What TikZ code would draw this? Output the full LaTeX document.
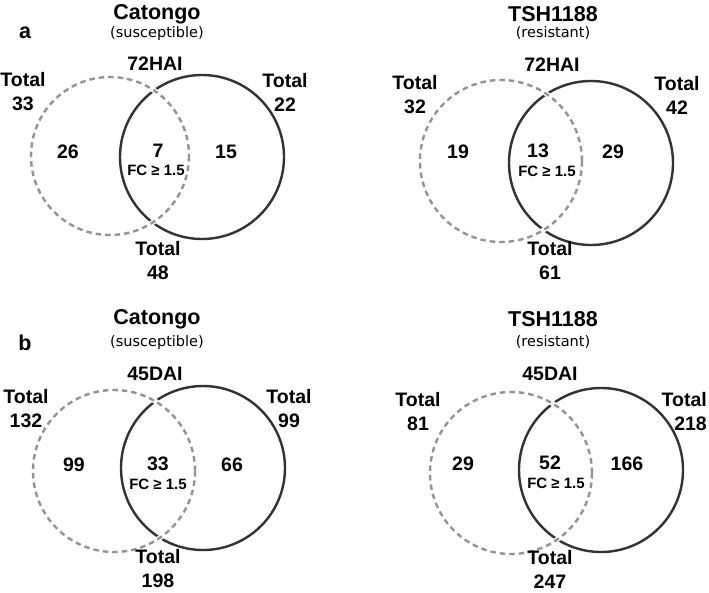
\documentclass[tikz,border=0pt]{standalone}
\usepackage{fontspec}
\setmainfont{Liberation Sans}
\newfontfamily\verdanaish{DejaVu Sans}
\begin{document}
\begin{tikzpicture}[x=1pt,y=-1pt,
  lbl/.style={font=\fontsize{19.5}{24}\selectfont\bfseries, inner sep=0pt, align=center},
  ttl/.style={font=\fontsize{21.5}{22}\selectfont\bfseries, inner sep=0pt},
  sub/.style={font=\verdanaish\fontsize{14.5}{15}\selectfont, inner sep=0pt},
  fc/.style={font=\fontsize{15}{16}\selectfont\bfseries, inner sep=0pt},
  solidc/.style={draw=black!80, line width=2.4pt},
  underc/.style={draw=white, line width=5pt},
  dashc/.style={draw=black!42, line width=2.4pt, dash pattern=on 5.5pt off 4pt}]
\useasboundingbox (0,0) rectangle (709,592);
\fill[white] (0,0) rectangle (709,592);

% ---------- panel a, Catongo ----------
\node[ttl] (aLetter) at (25,33) {a};
\node[ttl] (aCatT) at (157,14) {Catongo};
\node[sub] (aCatS) at (157,33) {(susceptible)};
\node[lbl] (aCatH) at (155,64) {72HAI};
\draw[solidc] (202,157) circle (82);
\draw[underc] (110,156) circle (79);
\draw[dashc] (110,156) circle (79);
\node[lbl] (aCatL) at (23,92) {Total\\33};
\node[lbl] (aCatR) at (285,92) {Total\\22};
\node[lbl] (aCatA) at (68,152) {26};
\node[lbl] (aCatI) at (158,151) {7};
\node[fc]  (aCatF) at (156,170) {FC ≥ 1.5};
\node[lbl] (aCatB) at (226,152) {15};
\node[lbl] (aCatD) at (158,261) {Total\\48};

% ---------- panel a, TSH1188 ----------
\node[ttl] (aTshT) at (553,14) {TSH1188};
\node[sub] (aTshS) at (553,33) {(resistant)};
\node[lbl] (aTshH) at (552,65) {72HAI};
\draw[solidc] (591,163) circle (82);
\draw[underc] (501,161) circle (81);
\draw[dashc] (501,161) circle (81);
\node[lbl] (aTshL) at (415,95) {Total\\32};
\node[lbl] (aTshR) at (677,95) {Total\\42};
\node[lbl] (aTshA) at (458,152) {19};
\node[lbl] (aTshI) at (538,151) {13};
\node[fc]  (aTshF) at (547,171) {FC ≥ 1.5};
\node[lbl] (aTshB) at (613,152) {29};
\node[lbl] (aTshD) at (550,261) {Total\\61};

% ---------- panel b, Catongo ----------
\node[ttl] (bLetter) at (25,343) {b};
\node[ttl] (bCatT) at (157,319) {Catongo};
\node[sub] (bCatS) at (157,342) {(susceptible)};
\node[lbl] (bCatH) at (155,374) {45DAI};
\draw[solidc] (203,468) circle (82);
\draw[underc] (114,471) circle (81);
\draw[dashc] (114,471) circle (81);
\node[lbl] (bCatL) at (26,409) {Total\\132};
\node[lbl] (bCatR) at (289,409) {Total\\99};
\node[lbl] (bCatA) at (74,465) {99};
\node[lbl] (bCatI) at (158,464) {33};
\node[fc]  (bCatF) at (158,484) {FC ≥ 1.5};
\node[lbl] (bCatB) at (232,465) {66};
\node[lbl] (bCatD) at (158,569) {Total\\198};

% ---------- panel b, TSH1188 ----------
\node[ttl] (bTshT) at (553,319) {TSH1188};
\node[sub] (bTshS) at (553,342) {(resistant)};
\node[lbl] (bTshH) at (550,374) {45DAI};
\draw[solidc] (601,470) circle (82);
\draw[underc] (511,473) circle (81);
\draw[dashc] (511,473) circle (81);
\node[lbl] (bTshL) at (418,412) {Total\\81};
\node[lbl, align=right, anchor=east] (bTshR) at (707,412) {Total\\218};
\node[lbl] (bTshA) at (463,464) {29};
\node[lbl] (bTshI) at (550,463) {52};
\node[fc]  (bTshF) at (556,483) {FC ≥ 1.5};
\node[lbl] (bTshB) at (627,464) {166};
\node[lbl] (bTshD) at (550,569) {Total\\247};
\end{tikzpicture}
\end{document}
